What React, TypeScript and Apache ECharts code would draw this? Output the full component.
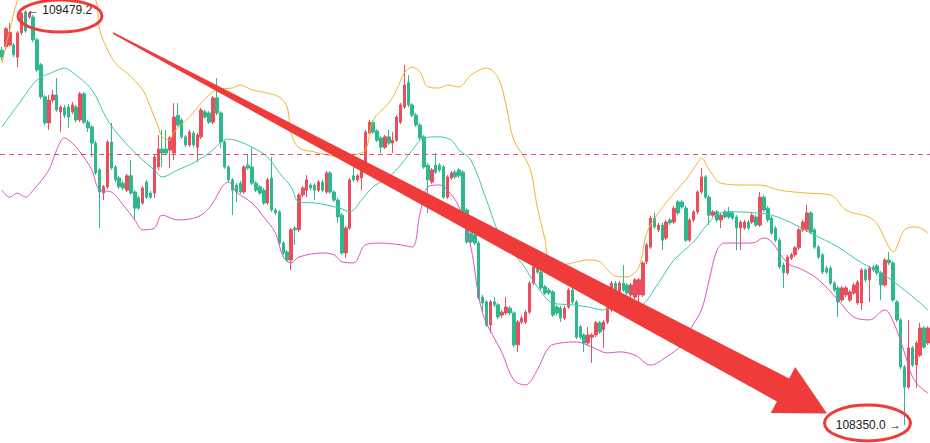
import React, { useEffect, useRef } from 'react';
import * as echarts from 'echarts';

const categories: string[] = Array.from({ length: 238 }, (_, i) => `K${i + 1}`);

const opens = [
  109370, 109379, 109384, 109384, 109351, 109417, 109474, 109460, 109460, 109398,
  109330, 109243, 109172, 109234, 109248, 109202, 109213, 109215, 109202, 109215,
  109180, 109251, 109174, 109161, 109117, 109044, 108981, 108998, 109120, 109052,
  109022, 109008, 108989, 109028, 108984, 108968, 108954, 109011, 108981, 108981,
  109052, 109101, 109101, 109098, 109090, 109193, 109180, 109134, 109112, 109144,
  109106, 109134, 109202, 109199, 109174, 109240, 109199, 109120, 109052, 109017,
  109003, 109008, 108984, 109057, 109052, 109008, 108998, 108989, 108954, 109022,
  108935, 108930, 108845, 108821, 108799, 108886, 108881, 108976, 108989, 109003,
  109003, 108989, 109011, 108984, 109036, 108984, 108962, 108921, 108818, 108886,
  109028, 109017, 109022, 109057, 109144, 109174, 109150, 109131, 109106, 109134,
  109117, 109125, 109174, 109215, 109281, 109221, 109193, 109166, 109134, 109057,
  109011, 109057, 109057, 109052, 108970, 109022, 109038, 109044, 109038, 108935,
  108872, 108867, 108845, 108698, 108685, 108622, 108685, 108677, 108649, 108655,
  108668, 108655, 108568, 108630, 108630, 108657, 108736, 108780, 108766, 108726,
  108717, 108712, 108671, 108668, 108641, 108671, 108717, 108685, 108617, 108595,
  108573, 108589, 108595, 108628, 108609, 108630, 108663, 108736, 108698, 108736,
  108731, 108704, 108698, 108704, 108704, 108794, 108834, 108913, 108881, 108894,
  108859, 108908, 108902, 108957, 108957, 108940, 108853, 108908, 108930, 108984,
  109025, 108970, 108921, 108930, 108908, 108930, 108930, 108927, 108916, 108886,
  108886, 108902, 108902, 108916, 108894, 108970, 108940, 108913, 108886, 108853,
  108785, 108764, 108804, 108813, 108832, 108881, 108881, 108927, 108881, 108834,
  108813, 108777, 108777, 108736, 108723, 108690, 108704, 108690, 108709, 108682,
  108682, 108772, 108745, 108780, 108783, 108764, 108731, 108799, 108791, 108685,
  108636, 108508, 108453, 108560, 108513, 108540, 108614, 108573,
];

const closes = [
  109351, 109428, 109419, 109357, 109417, 109471, 109422, 109471, 109398, 109316,
  109243, 109172, 109234, 109248, 109207, 109215, 109193, 109188, 109221, 109180,
  109251, 109174, 109158, 109117, 109036, 108984, 108998, 109120, 109049, 109017,
  108998, 108995, 109028, 108981, 108940, 108940, 108995, 108970, 108970, 109079,
  109101, 109090, 109090, 109131, 109188, 109166, 109134, 109112, 109147, 109112,
  109139, 109207, 109188, 109174, 109240, 109199, 109120, 109052, 109017, 108989,
  108984, 108984, 109052, 109049, 109008, 108989, 108981, 108954, 109017, 108935,
  108927, 108845, 108818, 108799, 108881, 108881, 108976, 108995, 109017, 108995,
  108989, 109011, 108989, 109036, 108984, 108962, 108916, 108818, 108886, 109017,
  109017, 109028, 109057, 109147, 109174, 109147, 109125, 109106, 109134, 109117,
  109125, 109188, 109221, 109275, 109221, 109193, 109166, 109131, 109052, 109017,
  109044, 109038, 109044, 108970, 109025, 109036, 109025, 109028, 108930, 108848,
  108848, 108845, 108696, 108682, 108622, 108685, 108677, 108644, 108657, 108671,
  108655, 108568, 108630, 108641, 108657, 108736, 108780, 108766, 108723, 108709,
  108709, 108649, 108655, 108641, 108668, 108717, 108685, 108589, 108589, 108573,
  108595, 108595, 108628, 108603, 108630, 108668, 108736, 108698, 108736, 108717,
  108709, 108731, 108745, 108745, 108791, 108840, 108913, 108889, 108894, 108853,
  108902, 108900, 108940, 108927, 108943, 108853, 108908, 108930, 108984, 109025,
  108970, 108921, 108930, 108908, 108921, 108916, 108916, 108913, 108886, 108902,
  108902, 108886, 108921, 108894, 108970, 108935, 108908, 108872, 108853, 108780,
  108764, 108807, 108813, 108832, 108881, 108902, 108927, 108875, 108834, 108807,
  108766, 108766, 108736, 108717, 108685, 108723, 108723, 108712, 108731, 108739,
  108772, 108745, 108777, 108772, 108764, 108731, 108799, 108791, 108690, 108636,
  108508, 108453, 108560, 108513, 108573, 108614, 108562, 108614,
];

const lows = [
  109343, 109373, 109379, 109351, 109324, 109411, 109417, 109455, 109392, 109310,
  109237, 109166, 109153, 109226, 109202, 109147, 109185, 109158, 109196, 109174,
  109174, 109169, 109147, 109079, 109030, 108886, 108962, 108992, 109044, 109011,
  108992, 108989, 108984, 108976, 108908, 108935, 108949, 108965, 108965, 108968,
  109044, 109052, 109085, 109049, 109071, 109161, 109128, 109106, 109106, 109106,
  109066, 109128, 109183, 109169, 109169, 109193, 109104, 109047, 109011, 108921,
  108957, 108979, 108979, 109044, 109003, 108984, 108976, 108949, 108949, 108930,
  108921, 108840, 108813, 108794, 108772, 108840, 108875, 108970, 108970, 108989,
  108962, 108984, 108984, 108979, 108979, 108957, 108900, 108813, 108804, 108881,
  109011, 109011, 108989, 109052, 109139, 109142, 109120, 109090, 109101, 109112,
  109090, 109120, 109169, 109210, 109215, 109188, 109161, 109125, 109047, 108927,
  109006, 109033, 109038, 108965, 108965, 109017, 109019, 109022, 108924, 108843,
  108843, 108840, 108690, 108657, 108617, 108600, 108671, 108638, 108641, 108649,
  108649, 108562, 108549, 108625, 108625, 108652, 108731, 108761, 108717, 108704,
  108704, 108644, 108649, 108630, 108636, 108666, 108679, 108584, 108584, 108549,
  108568, 108519, 108589, 108598, 108560, 108625, 108657, 108693, 108693, 108712,
  108704, 108698, 108693, 108671, 108698, 108788, 108829, 108883, 108875, 108826,
  108853, 108894, 108897, 108921, 108938, 108848, 108848, 108902, 108924, 108979,
  108965, 108894, 108916, 108902, 108886, 108911, 108911, 108908, 108826, 108826,
  108881, 108881, 108897, 108889, 108889, 108930, 108902, 108867, 108848, 108774,
  108723, 108758, 108799, 108807, 108826, 108875, 108875, 108870, 108829, 108802,
  108761, 108761, 108731, 108712, 108644, 108685, 108698, 108685, 108704, 108677,
  108663, 108739, 108685, 108766, 108758, 108690, 108726, 108785, 108685, 108630,
  108502, 108350.0, 108448, 108508, 108451, 108535, 108557, 108568,
];

const highs = [
  109379, 109433, 109444, 109389, 109422, 109474, 109479.2, 109474, 109466, 109403,
  109335, 109248, 109248, 109262, 109294, 109221, 109221, 109223, 109229, 109221,
  109256, 109256, 109180, 109166, 109123, 109049, 109003, 109125, 109172, 109057,
  109028, 109014, 109033, 109071, 108989, 108973, 109000, 109017, 108987, 109085,
  109139, 109153, 109153, 109136, 109226, 109226, 109185, 109139, 109153, 109150,
  109144, 109213, 109207, 109204, 109245, 109294, 109204, 109125, 109057, 109022,
  109008, 109014, 109057, 109085, 109104, 109014, 109003, 108995, 109022, 109079,
  108940, 108935, 108851, 108826, 108886, 108891, 108981, 109000, 109030, 109008,
  109008, 109017, 109017, 109041, 109041, 108989, 108968, 108927, 108891, 109022,
  109063, 109033, 109063, 109153, 109180, 109180, 109155, 109136, 109139, 109153,
  109147, 109193, 109226, 109330, 109302, 109226, 109199, 109172, 109139, 109063,
  109049, 109090, 109063, 109057, 109030, 109041, 109044, 109049, 109044, 108940,
  108878, 108872, 108851, 108704, 108690, 108690, 108698, 108682, 108663, 108698,
  108674, 108660, 108636, 108647, 108663, 108742, 108821, 108785, 108804, 108731,
  108723, 108717, 108677, 108674, 108674, 108723, 108723, 108690, 108622, 108600,
  108617, 108600, 108633, 108633, 108636, 108674, 108742, 108742, 108742, 108785,
  108736, 108736, 108750, 108750, 108796, 108845, 108919, 108927, 108900, 108900,
  108908, 108913, 108946, 108962, 108962, 108946, 108913, 108935, 108989, 109049,
  109030, 108976, 108935, 108935, 108927, 108935, 108943, 108932, 108921, 108908,
  108908, 108908, 108927, 108921, 108984, 108976, 108946, 108919, 108891, 108859,
  108791, 108813, 108818, 108837, 108886, 108908, 108949, 108932, 108886, 108840,
  108818, 108783, 108783, 108742, 108728, 108728, 108728, 108717, 108736, 108745,
  108777, 108777, 108783, 108785, 108788, 108769, 108804, 108821, 108796, 108690,
  108641, 108513, 108636, 108565, 108579, 108628, 108619, 108619,
];

// Bollinger bands: [candle index, price]
const upperBand: [number, number][] = [
  [0, 109335], [2, 109425], [4, 109506], [7, 109574], [14, 109602], [20, 109561], [24, 109506],
  [25, 109425], [28, 109351], [30, 109324], [32, 109308], [36, 109262], [38, 109215], [40, 109161],
  [41, 109134], [43, 109125], [44, 109147], [48, 109188], [51, 109226], [55, 109262], [59, 109267],
  [61, 109275], [64, 109262], [68, 109253], [71, 109242], [73, 109215], [74, 109144], [76, 109104],
  [80, 109093], [83, 109085], [87, 109079], [90, 109085], [93, 109098], [95, 109180], [99, 109226],
  [101, 109262], [103, 109308], [105, 109324], [107, 109310], [109, 109270], [112, 109267],
  [114, 109275], [117, 109270], [120, 109302], [124, 109321], [127, 109294], [129, 109221],
  [131, 109125], [135, 109052], [137, 108943], [139, 108853], [140, 108799], [143, 108785],
  [146, 108791], [150, 108799], [153, 108794], [155, 108772], [157, 108755], [160, 108753],
  [163, 108780], [165, 108872], [168, 108927], [172, 108981], [175, 109017], [178, 109063],
  [179, 109076], [181, 109044], [184, 109008], [190, 109003], [194, 109003], [199, 108989],
  [206, 108981], [212, 108976], [216, 108935], [223, 108908], [227, 108834], [228, 108821],
  [231, 108881], [234, 108889], [237, 108872],
];

const middleBand: [number, number][] = [
  [0, 109161], [5, 109234], [9, 109289], [13, 109310], [16, 109321], [18, 109310], [23, 109262],
  [27, 109180], [31, 109125], [36, 109071], [39, 109044], [41, 109025], [45, 109044], [49, 109063],
  [53, 109090], [58, 109128], [61, 109120], [64, 109106], [68, 109079], [71, 109036], [74, 108998],
  [76, 108957], [80, 108954], [83, 108949], [87, 108938], [89, 108930], [92, 108962], [95, 108998],
  [99, 109025], [102, 109057], [105, 109098], [108, 109131], [112, 109134], [115, 109125],
  [117, 109098], [120, 109071], [124, 108962], [128, 108853], [133, 108791], [137, 108726],
  [141, 108682], [146, 108677], [150, 108671], [154, 108663], [158, 108671], [161, 108668],
  [164, 108677], [168, 108736], [172, 108799], [177, 108848], [181, 108902], [184, 108927],
  [188, 108930], [193, 108927], [197, 108921], [202, 108900], [207, 108872], [214, 108834],
  [220, 108791], [225, 108764], [231, 108717], [237, 108663],
];

const lowerBand: [number, number][] = [
  [0, 108989], [2, 108970], [4, 108981], [6, 108970], [8, 108989], [12, 109044], [14, 109098],
  [16, 109131], [18, 109117], [20, 109093], [23, 109044], [25, 108989], [28, 108984], [31, 108949],
  [34, 108908], [36, 108881], [39, 108886], [41, 108921], [45, 108908], [50, 108916], [53, 108940],
  [58, 109011], [60, 108984], [64, 108954], [67, 108916], [70, 108872], [72, 108807], [74, 108791],
  [76, 108807], [82, 108818], [85, 108813], [87, 108794], [90, 108791], [93, 108840], [97, 108845],
  [102, 108840], [105, 108834], [107, 108927], [109, 108998], [112, 109003], [114, 108989],
  [117, 108943], [120, 108834], [123, 108655], [128, 108546], [131, 108472], [134, 108459],
  [137, 108500], [140, 108562], [143, 108573], [147, 108576], [151, 108562], [155, 108546],
  [158, 108549], [162, 108540], [166, 108513], [170, 108535], [174, 108568], [176, 108608],
  [179, 108663], [181, 108745], [183, 108826], [185, 108845], [188, 108845], [192, 108845],
  [195, 108859], [197, 108848], [201, 108791], [205, 108772], [209, 108745], [214, 108690],
  [218, 108644], [222, 108636], [226, 108663], [227, 108655], [229, 108608], [231, 108546],
  [233, 108481], [235, 108453], [237, 108437],
];

const referencePrice = 109087;
const yMin = 108301;
const yMax = 109506.4;

const UP = '#EA4D5B';
const DOWN = '#2DB98C';
const ANNOT = '#F03B3B';

export default function App() {
  const ref = useRef<HTMLDivElement>(null);

  useEffect(() => {
    if (!ref.current) return;
    const chart = echarts.init(ref.current, null, { renderer: 'svg' });
    const candles = opens.map((o, i) => [o, closes[i], lows[i], highs[i]]);

    let hiIdx = 0;
    let loIdx = 0;
    highs.forEach((h, i) => { if (h > highs[hiIdx]) hiIdx = i; });
    lows.forEach((l, i) => { if (l < lows[loIdx]) loIdx = i; });
    const hiVal = highs[hiIdx];
    const loVal = lows[loIdx];

    const band = (data: [number, number][], color: string) => ({
      type: 'line',
      data,
      smooth: 0.35,
      symbol: 'none',
      showSymbol: false,
      silent: true,
      lineStyle: { color, width: 1 },
      z: 3,
    });

    const labelFont = { fontFamily: 'Liberation Sans, Arial, sans-serif', fontSize: 12, color: '#222' };

    chart.setOption({
      animation: false,
      backgroundColor: '#ffffff',
      grid: { left: 0, right: 0, top: 0, bottom: 0 },
      xAxis: {
        type: 'category',
        data: categories,
        boundaryGap: true,
        show: false,
      },
      yAxis: {
        type: 'value',
        min: yMin,
        max: yMax,
        show: false,
        splitLine: { show: false },
      },
      series: [
        {
          type: 'candlestick',
          data: candles,
          barWidth: 3,
          z: 2,
          itemStyle: {
            color: UP,
            color0: DOWN,
            borderColor: UP,
            borderColor0: DOWN,
            borderWidth: 1,
          },
          markLine: {
            silent: true,
            symbol: ['none', 'none'],
            label: { show: false },
            lineStyle: { color: '#DE5370', type: [5, 4], width: 1 },
            data: [{ yAxis: referencePrice }],
          },
          markPoint: {
            silent: true,
            data: [
              {
                coord: [hiIdx, hiVal],
                symbol: 'circle',
                symbolSize: 1,
                itemStyle: { color: 'rgba(0,0,0,0)' },
                label: {
                  show: true,
                  position: 'right',
                  distance: 1,
                  formatter: `← ${hiVal.toFixed(1)}`,
                  ...labelFont,
                },
              },
              {
                coord: [loIdx, loVal],
                symbol: 'circle',
                symbolSize: 1,
                itemStyle: { color: 'rgba(0,0,0,0)' },
                label: {
                  show: true,
                  position: 'left',
                  distance: 3,
                  formatter: `${loVal.toFixed(1)} →`,
                  ...labelFont,
                },
              },
            ],
          },
        },
        band(upperBand, '#F3B22E'),
        band(middleBand, '#3CC9A6'),
        band(lowerBand, '#D955C2'),
      ],
      graphic: [
        {
          type: 'polygon',
          z: 100,
          shape: {
            points: [
              [113.4, 32.3],
              [789.1, 378.5],
              [795.2, 367.1],
              [827, 413.5],
              [770.8, 412.9],
              [776.9, 401.5],
              [112.6, 33.7],
            ],
          },
          style: { fill: ANNOT },
        },
        {
          type: 'ellipse',
          z: 100,
          shape: { cx: 60, cy: 16, rx: 42, ry: 16 },
          style: { fill: 'none', stroke: ANNOT, lineWidth: 3 },
        },
        {
          type: 'ellipse',
          z: 100,
          shape: { cx: 867.5, cy: 423, rx: 43, ry: 18 },
          style: { fill: 'none', stroke: ANNOT, lineWidth: 3 },
        },
      ],
    });

    return () => chart.dispose();
  }, []);

  return (
    <div
      ref={ref}
      style={{ position: 'absolute', left: 0, top: 0, width: 930, height: 443 }}
    />
  );
}
